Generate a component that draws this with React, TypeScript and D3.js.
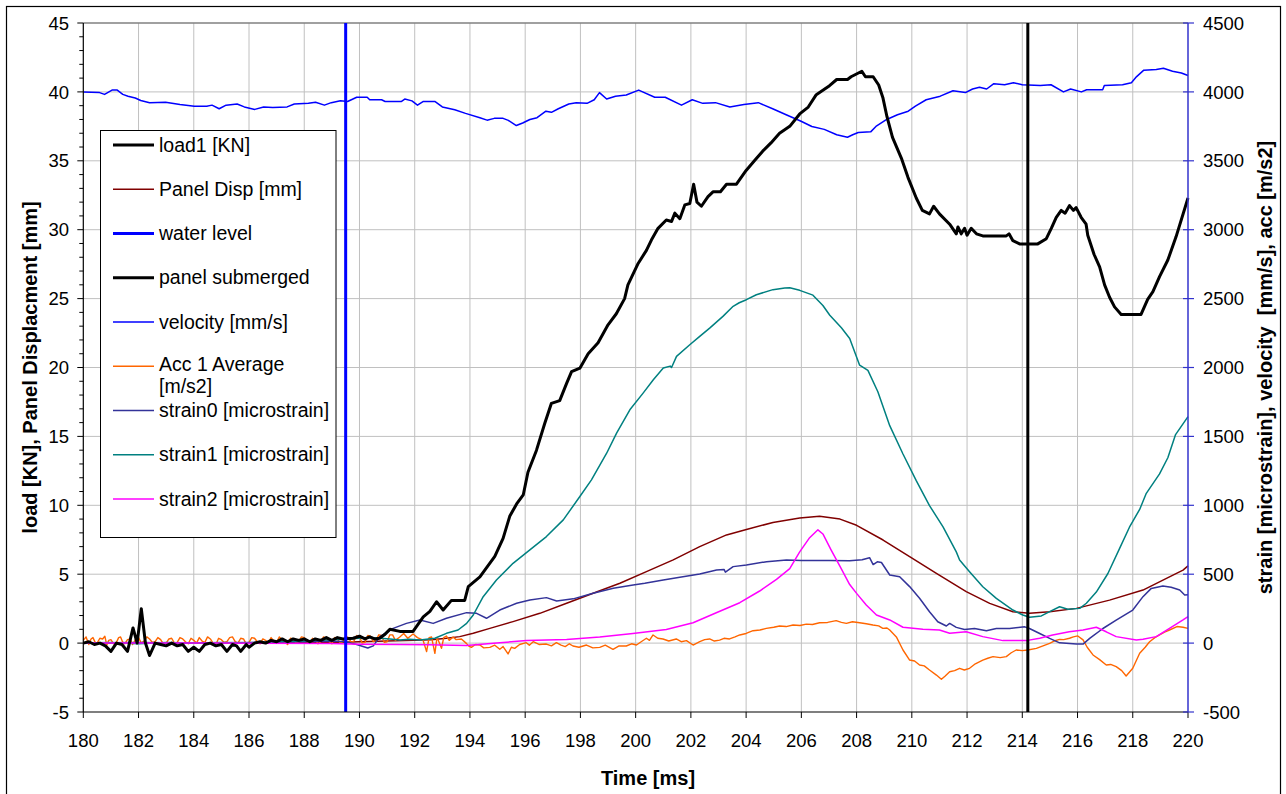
import * as d3 from 'd3';

// time [ms] vs value
const load1: [number, number][] = [
  [180.0, 0.0], [180.2, 0.1], [180.4, -0.1], [180.6, 0.0], [180.8, -0.2], [181.0, -0.6], [181.2, 0.0],
  [181.4, -0.1], [181.6, -0.6], [181.8, 1.1], [181.95, 0.0], [182.1, 2.5], [182.25, 0.0], [182.4, -0.9],
  [182.6, 0.0], [182.8, -0.1], [183.0, -0.2], [183.2, 0.0], [183.4, -0.2], [183.6, -0.1], [183.8, -0.6],
  [184.0, -0.3], [184.2, -0.6], [184.4, -0.1], [184.6, 0.0], [184.8, -0.2], [185.0, -0.1], [185.2, -0.6],
  [185.4, -0.1], [185.55, -0.2], [185.7, -0.6], [185.9, -0.1], [186.0, -0.3], [186.2, 0.0], [186.4, 0.1],
  [186.6, 0.0], [186.8, 0.2], [187.0, 0.1], [187.2, 0.3], [187.4, 0.1], [187.6, 0.3], [187.8, 0.2],
  [188.0, 0.3], [188.2, 0.1], [188.4, 0.3], [188.6, 0.2], [188.8, 0.4], [189.0, 0.2], [189.2, 0.4],
  [189.4, 0.3], [189.77, 0.35], [190.0, 0.5], [190.2, 0.3], [190.37, 0.45], [190.55, 0.3], [190.73, 0.35],
  [190.9, 0.6], [191.1, 1.0], [191.46, 0.85], [191.94, 0.85], [192.1, 1.3], [192.31, 1.9], [192.55, 2.3],
  [192.79, 3.0], [193.03, 2.4], [193.33, 3.1], [193.81, 3.1], [193.94, 4.1], [194.36, 4.8], [194.9, 6.3],
  [195.2, 7.6], [195.44, 9.2], [195.69, 10.1], [195.93, 10.75], [196.1, 12.4], [196.41, 14.0],
  [196.71, 15.95], [196.95, 17.4], [197.25, 17.6], [197.5, 18.85], [197.68, 19.7], [197.98, 19.95],
  [198.28, 21.0], [198.64, 21.8], [199.0, 23.1], [199.3, 23.9], [199.6, 25.0], [199.72, 26.0],
  [200.09, 27.55], [200.39, 28.5], [200.57, 29.25], [200.81, 30.1], [201.11, 30.7], [201.3, 30.6],
  [201.42, 31.2], [201.6, 30.8], [201.78, 31.8], [201.96, 31.9], [202.1, 33.3], [202.22, 32.0],
  [202.38, 31.7], [202.62, 32.4], [202.8, 32.75], [203.07, 32.75], [203.29, 33.3], [203.65, 33.3],
  [204.0, 34.3], [204.3, 35.0], [204.6, 35.7], [204.9, 36.3], [205.21, 37.0], [205.58, 37.5],
  [205.94, 38.4], [206.25, 38.9], [206.54, 39.8], [207.02, 40.45], [207.28, 40.9], [207.67, 40.9],
  [207.8, 41.1], [208.19, 41.5], [208.32, 41.1], [208.6, 41.1], [208.8, 40.5], [208.95, 39.6],
  [209.1, 38.2], [209.3, 36.7], [209.62, 35.2], [209.86, 33.8], [210.16, 32.3], [210.38, 31.4],
  [210.64, 31.15], [210.79, 31.7], [211.0, 31.15], [211.37, 30.4], [211.61, 29.7], [211.67, 30.2],
  [211.79, 29.7], [211.91, 30.1], [212.0, 29.6], [212.15, 30.1], [212.34, 29.7], [212.57, 29.55],
  [213.42, 29.55], [213.52, 29.7], [213.66, 29.2], [213.9, 28.97], [214.56, 28.97], [214.87, 29.35],
  [215.05, 30.1], [215.23, 30.9], [215.41, 31.4], [215.55, 31.2], [215.71, 31.75], [215.85, 31.4],
  [215.95, 31.6], [216.13, 30.9], [216.31, 30.4], [216.37, 29.6], [216.6, 28.2], [216.8, 27.3],
  [216.98, 26.0], [217.16, 25.1], [217.34, 24.4], [217.58, 23.85], [218.3, 23.85], [218.54, 24.95],
  [218.73, 25.5], [218.97, 26.6], [219.27, 27.8], [219.57, 29.5], [220.0, 32.3],
];

const panelDisp: [number, number][] = [
  [180, 0], [185, 0], [189, 0.05], [190, 0.1], [191, 0.15], [192, 0.2], [192.6, 0.25], [193.15, 0.35],
  [193.63, 0.47], [194.12, 0.71], [194.72, 1.07], [195.56, 1.56], [196.53, 2.16], [197.5, 2.89],
  [198.46, 3.62], [199.43, 4.34], [200.39, 5.19], [201.36, 6.04], [202.32, 7.0], [203.29, 7.85],
  [204.01, 8.25], [204.97, 8.75], [205.94, 9.07], [206.66, 9.2], [207.4, 9.0], [208.0, 8.55],
  [208.96, 7.48], [209.92, 6.27], [210.89, 5.06], [211.97, 3.73], [212.82, 2.88], [213.66, 2.28],
  [214.26, 2.16], [214.99, 2.28], [215.96, 2.52], [217.16, 3.12], [218.37, 3.85], [219.22, 4.7],
  [219.82, 5.3], [220, 5.6],
];

const velocity: [number, number][] = [
  [180.0, 4000], [180.59, 3995], [180.77, 3982], [181.04, 4013], [181.23, 4013], [181.43, 3982],
  [181.62, 3969], [181.88, 3956], [182.08, 3938], [182.4, 3922], [182.98, 3925], [183.5, 3909],
  [184.02, 3896], [184.47, 3896], [184.66, 3904], [184.92, 3878], [185.17, 3904], [185.57, 3912],
  [185.83, 3891], [186.21, 3873], [186.53, 3891], [186.86, 3886], [187.38, 3891], [187.64, 3912],
  [188.15, 3917], [188.41, 3925], [188.73, 3904], [188.98, 3922], [189.31, 3935], [189.57, 3930],
  [189.9, 3961], [190.28, 3961], [190.37, 3943], [190.8, 3943], [190.93, 3930], [191.51, 3930],
  [191.64, 3948], [191.9, 3935], [192.1, 3904], [192.3, 3930], [192.74, 3930], [193.0, 3891],
  [193.45, 3870], [193.84, 3844], [194.36, 3813], [194.62, 3795], [194.88, 3808], [195.2, 3808],
  [195.39, 3793], [195.68, 3756], [195.91, 3774], [196.17, 3800], [196.43, 3813], [196.75, 3860],
  [196.95, 3852], [197.2, 3878], [197.58, 3912], [197.85, 3922], [198.24, 3917], [198.5, 3943],
  [198.69, 3995], [198.95, 3948], [199.27, 3969], [199.66, 3977], [200.11, 4013], [200.69, 3961],
  [201.07, 3961], [201.66, 3904], [202.05, 3943], [202.43, 3917], [202.89, 3922], [203.41, 3891],
  [203.92, 3909], [204.44, 3922], [204.96, 3878], [205.47, 3832], [205.99, 3787], [206.38, 3749],
  [206.83, 3728], [207.28, 3689], [207.67, 3671], [207.86, 3689], [208.06, 3705], [208.51, 3710],
  [208.7, 3749], [209.09, 3800], [209.48, 3834], [209.87, 3860], [210.13, 3896], [210.52, 3943],
  [211.03, 3969], [211.49, 4008], [211.94, 3995], [212.2, 4021], [212.45, 4034], [212.71, 4021],
  [212.97, 4060], [213.36, 4052], [213.68, 4067], [214.0, 4052], [214.65, 4047], [215.04, 4052],
  [215.49, 4000], [215.75, 4021], [216.14, 4000], [216.33, 4016], [216.91, 4016], [216.97, 4047],
  [217.63, 4052], [217.95, 4067], [218.14, 4111], [218.4, 4158], [218.85, 4163], [219.11, 4171],
  [219.44, 4150], [219.76, 4137], [220.0, 4119],
];

const acc1Average: [number, number][] = [
  [180, 20], [180.1, 45], [180.2, -10], [180.28, 30], [180.35, 40], [180.43, 5], [180.5, 0], [180.6, 35],
  [180.7, 30], [180.78, 50], [180.85, -15], [180.92, 20], [181.0, 25], [181.1, -5], [181.2, 5],
  [181.28, 40], [181.35, 45], [181.42, 10], [181.5, -5], [181.6, 25], [181.7, 30], [181.78, -10],
  [181.85, 10], [181.92, 45], [182.0, 40], [182.1, 0], [182.2, 15], [182.3, 45], [182.4, 30],
  [182.5, 5], [182.6, 10], [182.7, 40], [182.8, 25], [182.9, -5], [183.0, 0], [183.1, 30], [183.2, 35],
  [183.3, 0], [183.4, 5], [183.5, 40], [183.6, 30], [183.7, 10], [183.8, -5], [183.9, 35], [184.0, 20],
  [184.1, 0], [184.2, 40], [184.3, 15], [184.4, 5], [184.5, 45], [184.6, 30], [184.7, 0], [184.8, -10],
  [184.9, 35], [185.0, 25], [185.1, 5], [185.2, 10], [185.3, 40], [185.4, 45], [185.5, 10], [185.6, 0],
  [185.7, 35], [185.8, 30], [185.9, -5], [186.0, 5], [186.1, 40], [186.2, 35], [186.3, 10], [186.4, -5],
  [186.5, 30], [186.6, 20], [186.7, 0], [186.8, 40], [186.9, 15], [187.0, 5], [187.1, 45], [187.2, 25],
  [187.3, 5], [187.4, -10], [187.5, 35], [187.6, 30], [187.7, 0], [187.8, 10], [187.9, 45], [188.0, 40],
  [188.1, 10], [188.2, 0], [188.3, 35], [188.4, 25], [188.5, -5], [188.6, 10], [188.7, 45], [188.8, 35],
  [188.9, 10], [189.0, -5], [189.1, 40], [189.2, 30], [189.3, 0], [189.4, 10], [189.5, 50], [189.6, 40],
  [189.7, 5], [189.8, 15], [189.9, 55], [190.0, 45], [190.1, 0], [190.2, 5], [190.3, 55], [190.4, 50],
  [190.5, 10], [190.6, 20], [190.7, 60], [190.8, 55], [190.9, 5], [191.0, 10], [191.1, 60], [191.2, 60],
  [191.3, 20], [191.46, 44], [191.6, 70], [191.75, 35], [191.94, 66], [192.1, 40], [192.3, 22],
  [192.43, -62], [192.52, 40], [192.61, 44], [192.73, -74], [192.8, 30], [192.85, 22], [192.97, -38],
  [193.05, 40], [193.15, 51], [193.25, 20], [193.39, 44], [193.5, 25], [193.69, 30], [193.87, -2],
  [193.95, -20], [194.05, -31], [194.2, -10], [194.36, -14], [194.5, -35], [194.72, -31], [194.9, -15],
  [195.08, -45], [195.2, -25], [195.38, -79], [195.5, -30], [195.62, -38], [195.8, -10], [196.04, 3],
  [196.15, -15], [196.29, 10], [196.5, -10], [196.77, -7], [196.95, -20], [197.13, 3], [197.3, -15],
  [197.45, -25], [197.6, -5], [197.73, -21], [197.95, -30], [198.22, -14], [198.45, -35], [198.7, -31],
  [198.9, -15], [199.18, -45], [199.4, -20], [199.66, -21], [199.85, -5], [200.03, -14], [200.2, 10],
  [200.39, 35], [200.5, 20], [200.63, 59], [200.8, 35], [200.99, 30], [201.2, 15], [201.47, 30],
  [201.65, 10], [201.84, 18], [202.08, -14], [202.32, 10], [202.5, 25], [202.68, 30], [202.85, 15],
  [203.04, 22], [203.2, 35], [203.4, 30], [203.6, 45], [203.77, 59], [204.0, 70], [204.25, 90],
  [204.5, 95], [204.73, 107], [205.0, 115], [205.21, 124], [205.45, 120], [205.7, 131], [205.95, 128],
  [206.18, 138], [206.4, 135], [206.66, 148], [206.95, 150], [207.26, 163], [207.45, 150], [207.63, 143],
  [207.85, 155], [208.11, 148], [208.35, 140], [208.59, 131], [208.8, 125], [208.95, 107], [209.1, 110],
  [209.2, 95], [209.44, 45], [209.68, -50], [209.92, -123], [210.1, -130], [210.28, -159], [210.45, -165],
  [210.64, -195], [210.89, -232], [211.07, -263], [211.2, -240], [211.37, -208], [211.55, -200],
  [211.73, -183], [211.9, -195], [212.09, -183], [212.3, -150], [212.57, -123], [212.75, -110],
  [212.94, -98], [213.2, -105], [213.42, -98], [213.6, -70], [213.78, -50], [214.0, -55], [214.2, -50],
  [214.51, -38], [214.75, -20], [214.99, -2], [215.15, 15], [215.35, 27], [215.5, 25], [215.71, 35],
  [215.85, 45], [216.01, 52], [216.2, 23], [216.35, -30], [216.56, -86], [216.8, -120], [217.04, -159],
  [217.2, -155], [217.4, -171], [217.6, -200], [217.76, -239], [218.0, -183], [218.25, -74],
  [218.45, -30], [218.61, 10], [218.8, 40], [218.97, 59], [219.15, 80], [219.33, 95], [219.6, 120],
  [219.82, 115], [220.0, 107],
];

const strain0: [number, number][] = [
  [180, 0], [182, 5], [184, 0], [186, 5], [188, 10], [189, 15], [189.5, 10], [189.9, -10], [190.3, -36],
  [190.5, -20], [190.74, 47], [191.22, 107], [191.7, 143], [192.19, 168], [192.67, 143], [193.15, 180],
  [193.88, 221], [194.24, 216], [194.6, 180], [195.08, 240], [195.69, 289], [196.17, 313], [196.77, 330],
  [197.14, 306], [197.74, 321], [198.46, 362], [199.19, 398], [199.91, 422], [200.33, 434], [201.0, 458],
  [201.6, 478], [202.32, 502], [202.93, 531], [203.2, 535], [203.25, 515], [203.53, 555], [204.01, 567],
  [204.74, 591], [205.46, 603], [206.0, 600], [207.0, 600], [207.75, 598], [208.2, 605], [208.47, 620],
  [208.6, 570], [208.75, 590], [208.9, 585], [209.2, 494], [209.56, 482], [209.92, 410], [210.28, 325],
  [210.64, 228], [210.94, 155], [211.25, 124], [211.37, 143], [211.61, 114], [211.91, 99], [212.27, 106],
  [212.7, 90], [213.06, 106], [213.54, 106], [214.09, 118], [214.26, 106], [214.63, 70], [214.99, 34],
  [215.35, 2], [215.96, -7], [216.2, -7], [216.44, 34], [216.92, 106], [217.4, 167], [218.0, 240],
  [218.37, 337], [218.67, 397], [219.09, 415], [219.39, 405], [219.7, 385], [219.88, 349], [220, 350],
];

const strain1: [number, number][] = [
  [180, 0], [181, 5], [182, -5], [183, 5], [184, 0], [185, 5], [186, 0], [187, 10], [188, 15], [188.5, 20],
  [189, 25], [189.5, 30], [190, 35], [190.4, 40], [190.74, 35], [191.1, 30], [191.46, 23], [191.8, 28],
  [192.19, 23], [192.5, 30], [192.73, 35], [193.15, 71], [193.57, 95], [193.88, 143], [194.12, 204],
  [194.48, 337], [194.96, 458], [195.56, 579], [196.17, 676], [196.77, 773], [197.38, 894], [197.98, 1064],
  [198.4, 1185], [198.95, 1378], [199.31, 1524], [199.79, 1693], [200.27, 1814], [200.64, 1911],
  [201.0, 1996], [201.25, 2010], [201.3, 2000], [201.48, 2081], [201.96, 2165], [202.32, 2226],
  [202.68, 2286], [203.16, 2371], [203.53, 2444], [203.75, 2470], [204.01, 2492], [204.37, 2528],
  [204.97, 2565], [205.4, 2577], [205.58, 2578], [205.94, 2560], [206.42, 2525], [206.78, 2450],
  [207.03, 2379], [207.45, 2288], [207.75, 2211], [208.11, 2017], [208.41, 1979], [208.77, 1824],
  [209.2, 1578], [209.68, 1372], [210.16, 1179], [210.64, 998], [211.13, 843], [211.61, 662],
  [211.73, 603], [212.09, 518], [212.57, 409], [213.06, 325], [213.66, 240], [214.02, 204], [214.26, 187],
  [214.69, 197], [214.99, 228], [215.35, 264], [215.65, 245], [216.08, 252], [216.32, 289], [216.68, 370],
  [217.1, 505], [217.52, 686], [217.88, 841], [218.25, 970], [218.49, 1087], [218.97, 1228],
  [219.27, 1345], [219.55, 1513], [220, 1643],
];

const strain2: [number, number][] = [
  [180, 0], [185, 0], [189, -3], [190, -8], [191.47, -10], [192.5, -12], [193.88, -17], [195.08, 2],
  [196.05, 19], [197.5, 27], [198.7, 44], [199.9, 70], [201.11, 99], [202.08, 148], [202.92, 220],
  [203.77, 293], [204.49, 378], [205.1, 462], [205.58, 540], [205.94, 662], [206.3, 765], [206.6, 822],
  [206.78, 792], [207.08, 675], [207.39, 560], [207.75, 425], [208.0, 361], [208.35, 276], [208.72, 204],
  [209.2, 168], [209.68, 115], [210.4, 100], [211.0, 95], [211.37, 71], [211.97, 82], [212.57, 47],
  [213.3, 18], [214.14, 18], [214.63, 35], [215.1, 59], [215.7, 82], [216.2, 95], [216.68, 115],
  [217.04, 82], [217.4, 47], [218.13, 23], [218.37, 28], [218.85, 47], [219.33, 107], [219.82, 168],
  [220, 192],
];

// vertical event markers [ms]
const waterLevel = [189.5];
const panelSubmerged = [214.2];

const xTicks = d3.range(180, 221, 2);
const leftTicks = d3.range(-5, 46, 5);
const leftMinor = d3.range(-5, 46, 1);
const rightTicks = d3.range(-500, 4501, 500);

const legendLabels: string[][] = [
  ['load1 [KN]'],
  ['Panel Disp [mm]'],
  ['water level'],
  ['panel submerged'],
  ['velocity [mm/s]'],
  ['Acc 1 Average', '[m/s2]'],
  ['strain0 [microstrain]'],
  ['strain1 [microstrain]'],
  ['strain2 [microstrain]'],
];
const legendStyle = [
  { color: '#000000', w: 3 },
  { color: '#800000', w: 1.5 },
  { color: '#0000FF', w: 3 },
  { color: '#000000', w: 3 },
  { color: '#0000FF', w: 1.5 },
  { color: '#FF6600', w: 1.5 },
  { color: '#333399', w: 1.5 },
  { color: '#008080', w: 1.5 },
  { color: '#FF00FF', w: 1.5 },
];

const FONT = '"Liberation Sans", Arial, Helvetica, sans-serif';

export default function App() {
  const left = 83.3;
  const right = 1188;
  const top = 23;
  const bottom = 712;

  const x = d3.scaleLinear().domain([180, 220]).range([left, right]);
  const yL = d3.scaleLinear().domain([-5, 45]).range([bottom, top]);
  const yR = d3.scaleLinear().domain([-500, 4500]).range([bottom, top]);

  const lineL = d3.line<[number, number]>().x((d) => x(d[0])).y((d) => yL(d[1]));
  const lineR = d3.line<[number, number]>().x((d) => x(d[0])).y((d) => yR(d[1]));

  const legX = 100.5;
  const legY = 130.5;
  const rowH = 44.25;

  return (
    <svg
      width={1286}
      height={794}
      style={{ position: 'absolute', left: 0, top: 0, background: '#fff' }}
      fontFamily={FONT}
    >
      <rect x={6.5} y={6.5} width={1274} height={800} fill="#fff" stroke="#000" strokeWidth={1.2} />

      {/* grid */}
      <g stroke="#c0c0c0" strokeWidth={1}>
        {xTicks.slice(1, -1).map((t) => (
          <line key={'gx' + t} x1={x(t)} x2={x(t)} y1={top} y2={bottom} />
        ))}
        {leftTicks.slice(1, -1).map((v) => (
          <line key={'gy' + v} x1={left} x2={right} y1={yL(v)} y2={yL(v)} />
        ))}
      </g>
      <line x1={left} x2={right} y1={top} y2={top} stroke="#808080" strokeWidth={1.5} />

      {/* series */}
      <g fill="none" strokeLinejoin="round">
        <path d={lineL(panelDisp) || ''} stroke="#800000" strokeWidth={1.5} />
        <path d={lineR(velocity) || ''} stroke="#0000FF" strokeWidth={1.5} />
        <path d={lineR(acc1Average) || ''} stroke="#FF6600" strokeWidth={1.4} />
        <path d={lineR(strain0) || ''} stroke="#333399" strokeWidth={1.5} />
        <path d={lineR(strain1) || ''} stroke="#008080" strokeWidth={1.5} />
        <path d={lineR(strain2) || ''} stroke="#FF00FF" strokeWidth={1.5} />
        <path d={lineL(load1) || ''} stroke="#000" strokeWidth={3} />
      </g>
      {waterLevel.map((t) => (
        <line key={'wl' + t} x1={x(t)} x2={x(t)} y1={top} y2={bottom} stroke="#0000FF" strokeWidth={3} />
      ))}
      {panelSubmerged.map((t) => (
        <line key={'ps' + t} x1={x(t)} x2={x(t)} y1={top} y2={bottom} stroke="#000" strokeWidth={3} />
      ))}

      {/* left axis */}
      <line x1={left} x2={left} y1={top} y2={bottom} stroke="#000" strokeWidth={1.2} />
      {leftMinor.map((v) => (
        <line key={'lm' + v} x1={left - (v % 5 === 0 ? 6 : 4)} x2={left} y1={yL(v)} y2={yL(v)} stroke="#000" strokeWidth={1} />
      ))}
      {leftTicks.map((v) => (
        <text key={'lt' + v} x={69} y={yL(v)} dy="0.36em" textAnchor="end" fontSize={18.5} fill="#000">
          {v}
        </text>
      ))}

      {/* bottom axis */}
      <line x1={left} x2={right} y1={bottom} y2={bottom} stroke="#000" strokeWidth={1.2} />
      {xTicks.map((t) => (
        <g key={'xt' + t}>
          <line x1={x(t)} x2={x(t)} y1={bottom} y2={bottom + 6} stroke="#000" strokeWidth={1} />
          <text x={x(t)} y={747} textAnchor="middle" fontSize={18.5} fill="#000">
            {t}
          </text>
        </g>
      ))}

      {/* right axis */}
      <line x1={right} x2={right} y1={top} y2={bottom} stroke="#3333CC" strokeWidth={1.5} />
      {rightTicks.map((v) => (
        <g key={'rt' + v}>
          <line x1={right - 5} x2={right + 6} y1={yR(v)} y2={yR(v)} stroke="#3333CC" strokeWidth={1.2} />
          <text x={1203} y={yR(v)} dy="0.36em" textAnchor="start" fontSize={18.5} fill="#000">
            {v}
          </text>
        </g>
      ))}

      {/* axis titles */}
      <text
        transform={`translate(30,${(top + bottom) / 2}) rotate(-90)`}
        dy="0.36em"
        textAnchor="middle"
        fontSize={20}
        fontWeight="bold"
      >
        load [KN], Panel Displacment [mm]
      </text>
      <text
        transform={`translate(1265,${(top + bottom) / 2}) rotate(-90)`}
        dy="0.36em"
        textAnchor="middle"
        fontSize={20}
        fontWeight="bold"
        style={{ whiteSpace: 'pre' }}
      >
        {'strain [microstrain], velocity  [mm/s], acc [m/s2]'}
      </text>
      <text x={648} y={785} textAnchor="middle" fontSize={20} fontWeight="bold">
        Time [ms]
      </text>

      {/* legend */}
      <rect x={legX} y={legY} width={235.5} height={407} fill="#fff" stroke="#000" strokeWidth={1} />
      {legendLabels.map((lines, i) => {
        const cy = 145 + i * rowH;
        const st = legendStyle[i];
        return (
          <g key={'lg' + i}>
            <line x1={113} x2={154} y1={cy} y2={cy} stroke={st.color} strokeWidth={st.w} />
            {lines.map((s, j) => (
              <text
                key={j}
                x={159}
                y={cy + (lines.length > 1 ? 5 : 6.5) + j * 21.5}
                fontSize={19.5}
                fill="#000"
              >
                {s}
              </text>
            ))}
          </g>
        );
      })}
    </svg>
  );
}
